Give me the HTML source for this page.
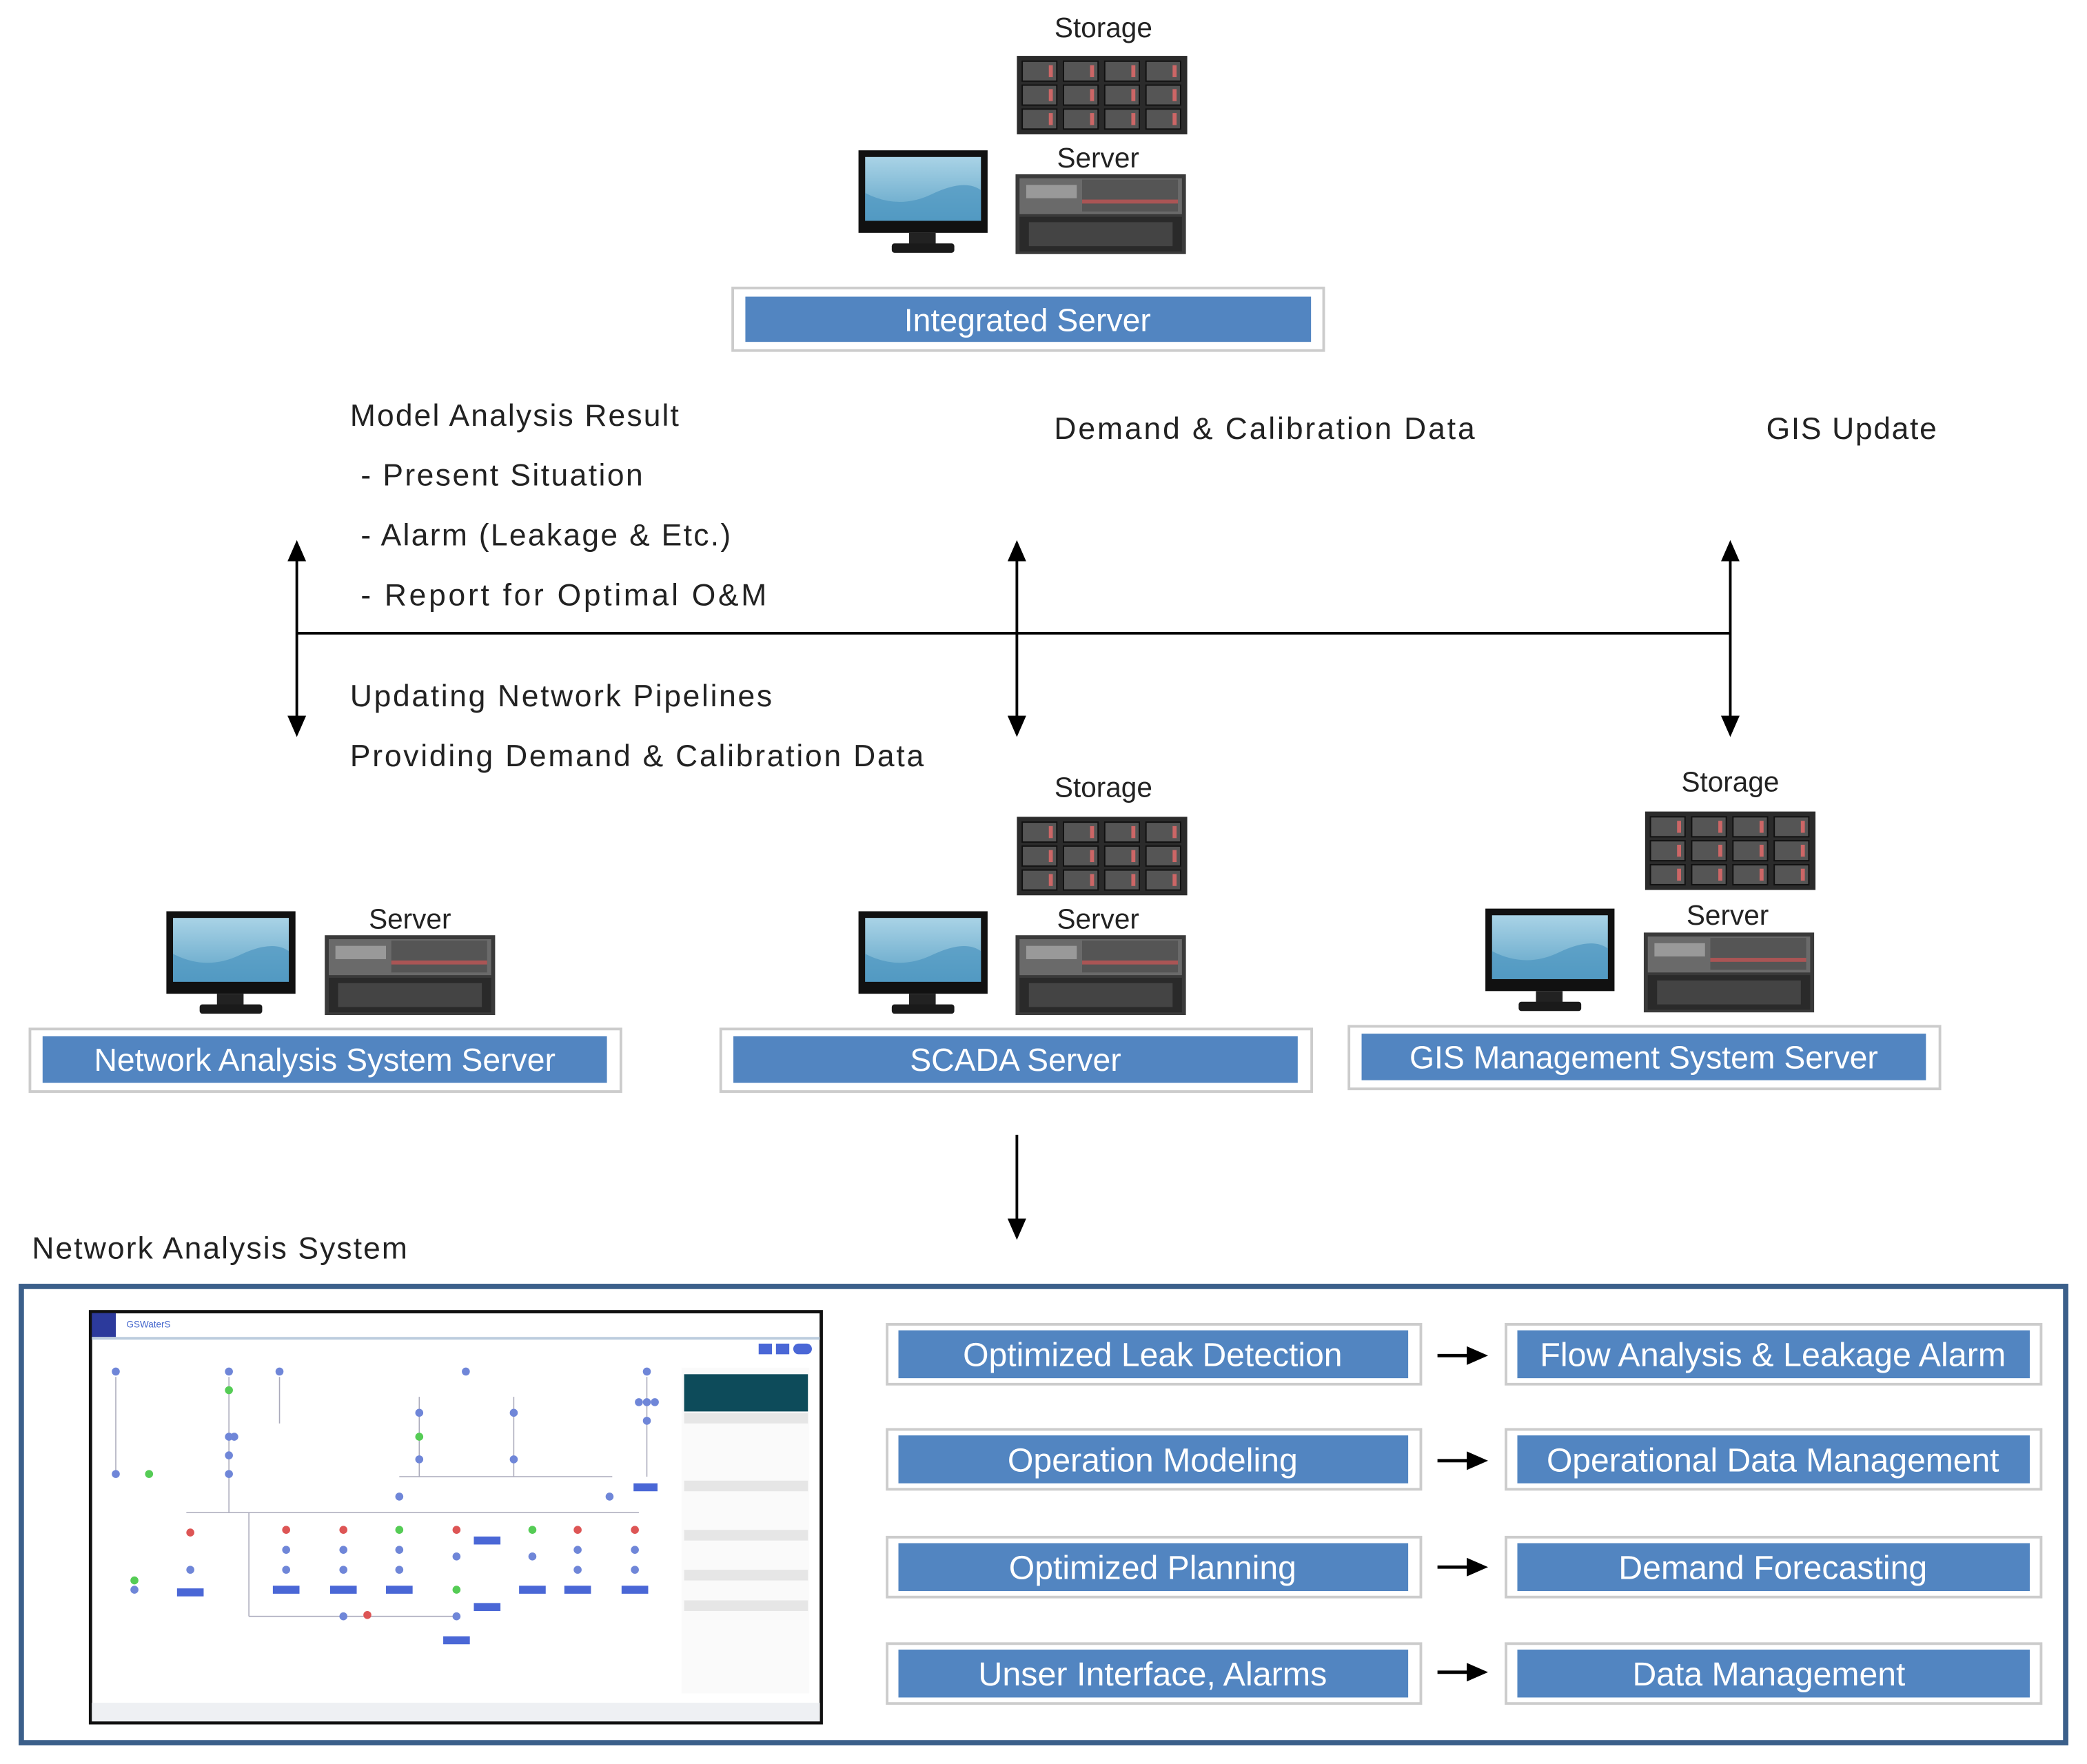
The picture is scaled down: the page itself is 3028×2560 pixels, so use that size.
<!DOCTYPE html>
<html><head><meta charset="utf-8"><style>html,body{margin:0;padding:0;background:#fff}svg{display:block}</style></head>
<body>
<svg width="3028" height="2560" viewBox="0 0 1568 1326" preserveAspectRatio="none" xmlns="http://www.w3.org/2000/svg">
<defs>
<linearGradient id="scr" x1="0" y1="0" x2="0" y2="1"><stop offset="0" stop-color="#a9d3e6"/><stop offset="1" stop-color="#5ea3c7"/></linearGradient>
<g id="mon">
<rect x="0" y="0" width="97" height="62" fill="#111"/>
<rect x="5" y="5" width="87" height="48" fill="url(#scr)"/>
<path d="M5 32 Q30 45 55 33 T92 30 V53 H5Z" fill="#4d96c0" opacity="0.7"/>
<rect x="38" y="62" width="20" height="9" fill="#222"/>
<rect x="25" y="70" width="47" height="7" rx="2" fill="#1a1a1a"/>
</g>
<g id="srv">
<rect x="0" y="0" width="128" height="60" fill="#3a3a3a"/>
<rect x="3" y="3" width="122" height="27" fill="#6a6a6a"/>
<rect x="8" y="8" width="38" height="10" fill="#999"/>
<rect x="50" y="4" width="72" height="24" fill="#555"/>
<rect x="50" y="19" width="72" height="3" fill="#a55"/>
<rect x="3" y="32" width="122" height="26" fill="#2a2a2a"/>
<rect x="10" y="36" width="108" height="18" fill="#444"/>
</g>
<g id="sto">
<rect x="0" y="0" width="128" height="59" fill="#2b2b2b"/>
<g fill="#555" stroke="#111" stroke-width="1">
<rect x="4" y="4" width="26" height="15"/><rect x="35" y="4" width="26" height="15"/><rect x="66" y="4" width="26" height="15"/><rect x="97" y="4" width="26" height="15"/>
<rect x="4" y="22" width="26" height="15"/><rect x="35" y="22" width="26" height="15"/><rect x="66" y="22" width="26" height="15"/><rect x="97" y="22" width="26" height="15"/>
<rect x="4" y="40" width="26" height="15"/><rect x="35" y="40" width="26" height="15"/><rect x="66" y="40" width="26" height="15"/><rect x="97" y="40" width="26" height="15"/>
</g>
<g fill="#c66"><rect x="24" y="7" width="3" height="9"/><rect x="55" y="7" width="3" height="9"/><rect x="86" y="7" width="3" height="9"/><rect x="117" y="7" width="3" height="9"/>
<rect x="24" y="25" width="3" height="9"/><rect x="55" y="25" width="3" height="9"/><rect x="86" y="25" width="3" height="9"/><rect x="117" y="25" width="3" height="9"/>
<rect x="24" y="43" width="3" height="9"/><rect x="55" y="43" width="3" height="9"/><rect x="86" y="43" width="3" height="9"/><rect x="117" y="43" width="3" height="9"/></g>
</g>
<marker id="ah" markerWidth="16" markerHeight="14" refX="8" refY="7" orient="auto-start-reverse" markerUnits="userSpaceOnUse"><path d="M0 0 L16 7 L0 14Z" fill="#000"/></marker>
</defs>
<g font-family="Liberation Sans, sans-serif" fill="#222">
<text x="829" y="28" font-size="21" text-anchor="middle">Storage</text>
<use href="#sto" x="764" y="42"/>
<text x="825" y="126" font-size="21" text-anchor="middle">Server</text>
<use href="#mon" x="645" y="113"/>
<use href="#srv" x="763" y="131"/>
<rect x="550.5" y="216.5" width="444" height="47" fill="#fff" stroke="#ccc" stroke-width="2"/>
<rect x="560" y="223" width="425" height="34" fill="#5285c1"/>
<text x="772" y="249" font-size="24" fill="#fff" text-anchor="middle">Integrated Server</text>

<g font-size="23" lengthAdjust="spacingAndGlyphs">
<text x="263" y="320" textLength="247">Model Analysis Result</text>
<text x="271" y="365" textLength="212">- Present Situation</text>
<text x="271" y="410" textLength="278">- Alarm (Leakage &amp; Etc.)</text>
<text x="271" y="455" textLength="305">- Report for Optimal O&amp;M</text>
<text x="792" y="330" textLength="316">Demand &amp; Calibration Data</text>
<text x="1327" y="330" textLength="128">GIS Update</text>
<text x="263" y="531" textLength="317">Updating Network Pipelines</text>
<text x="263" y="576" textLength="431">Providing Demand &amp; Calibration Data</text>
<text x="24" y="946" textLength="282">Network Analysis System</text>
</g>

<g stroke="#000" stroke-width="2">
<line x1="223" y1="476" x2="1300" y2="476"/>
<line x1="223" y1="414" x2="223" y2="546" marker-start="url(#ah)" marker-end="url(#ah)"/>
<line x1="764" y1="414" x2="764" y2="546" marker-start="url(#ah)" marker-end="url(#ah)"/>
<line x1="1300" y1="414" x2="1300" y2="546" marker-start="url(#ah)" marker-end="url(#ah)"/>
<line x1="764" y1="853" x2="764" y2="924" marker-end="url(#ah)"/>
</g>

<use href="#mon" x="125" y="685"/>
<use href="#srv" x="244" y="703"/>
<text x="308" y="698" font-size="21" text-anchor="middle">Server</text>
<rect x="22.5" y="773.5" width="444" height="47" fill="#fff" stroke="#ccc" stroke-width="2"/>
<rect x="32" y="779" width="424" height="35" fill="#5285c1"/>
<text x="244" y="805" font-size="24" fill="#fff" text-anchor="middle">Network Analysis System Server</text>
<text x="829" y="599" font-size="21" text-anchor="middle">Storage</text>
<use href="#sto" x="764" y="614"/>
<text x="825" y="698" font-size="21" text-anchor="middle">Server</text>
<use href="#mon" x="645" y="685"/>
<use href="#srv" x="763" y="703"/>
<rect x="541.5" y="773.5" width="444" height="47" fill="#fff" stroke="#ccc" stroke-width="2"/>
<rect x="551" y="779" width="424" height="35" fill="#5285c1"/>
<text x="763" y="805" font-size="24" fill="#fff" text-anchor="middle">SCADA Server</text>
<text x="1300" y="595" font-size="21" text-anchor="middle">Storage</text>
<use href="#sto" x="1236" y="610"/>
<text x="1298" y="695" font-size="21" text-anchor="middle">Server</text>
<use href="#mon" x="1116" y="683"/>
<use href="#srv" x="1235" y="701"/>
<rect x="1013.5" y="771.5" width="444" height="47" fill="#fff" stroke="#ccc" stroke-width="2"/>
<rect x="1023" y="777" width="424" height="35" fill="#5285c1"/>
<text x="1235" y="803" font-size="24" fill="#fff" text-anchor="middle">GIS Management System Server</text>

<rect x="16" y="967" width="1536" height="343" fill="none" stroke="#3b5f8a" stroke-width="4"/>

<rect x="68" y="986" width="549" height="309" fill="#fff" stroke="#111" stroke-width="2.5"/>
<rect x="69" y="987" width="18" height="18" fill="#2c3a9c"/>
<text x="95" y="998" font-size="7" fill="#4466cc">GSWaterS</text>
<line x1="69" y1="1006" x2="616" y2="1006" stroke="#bcd" stroke-width="2"/>
<rect x="69" y="1280" width="547" height="14" fill="#eef0f3"/>
<rect x="512" y="1028" width="96" height="245" fill="#fafafa"/>
<rect x="514" y="1033" width="93" height="28" fill="#0d4b5a"/>
<g fill="#e6e6e6"><rect x="514" y="1062" width="93" height="8"/><rect x="514" y="1113" width="93" height="8"/><rect x="514" y="1150" width="93" height="8"/><rect x="514" y="1180" width="93" height="8"/><rect x="514" y="1203" width="93" height="8"/></g>
<g stroke="#aab" stroke-width="0.8" fill="none">
<path d="M87 1035 V1108 M172 1035 V1110 M210 1035 V1070 M315 1050 V1110 M386 1050 V1110 M486 1035 V1110 M300 1110 H460 M140 1137 H480 M172 1110 V1137 M187 1137 V1215 M187 1215 H345"/>
</g>
<g fill="#6f86d8">
<circle cx="87" cy="1031" r="3"/><circle cx="172" cy="1031" r="3"/><circle cx="210" cy="1031" r="3"/><circle cx="350" cy="1031" r="3"/><circle cx="486" cy="1031" r="3"/>
<circle cx="172" cy="1080" r="3"/><circle cx="176" cy="1080" r="3"/><circle cx="172" cy="1094" r="3"/><circle cx="172" cy="1108" r="3"/><circle cx="87" cy="1108" r="3"/>
<circle cx="315" cy="1062" r="3"/><circle cx="386" cy="1062" r="3"/><circle cx="315" cy="1097" r="3"/><circle cx="386" cy="1097" r="3"/>
<circle cx="480" cy="1054" r="3"/><circle cx="486" cy="1054" r="3"/><circle cx="492" cy="1054" r="3"/><circle cx="486" cy="1068" r="3"/>
<circle cx="300" cy="1125" r="3"/><circle cx="458" cy="1125" r="3"/>
<circle cx="215" cy="1165" r="3"/><circle cx="258" cy="1165" r="3"/><circle cx="300" cy="1165" r="3"/><circle cx="343" cy="1170" r="3"/><circle cx="400" cy="1170" r="3"/><circle cx="434" cy="1165" r="3"/><circle cx="477" cy="1165" r="3"/>
<circle cx="143" cy="1180" r="3"/><circle cx="215" cy="1180" r="3"/><circle cx="258" cy="1180" r="3"/><circle cx="300" cy="1180" r="3"/><circle cx="434" cy="1180" r="3"/><circle cx="477" cy="1180" r="3"/><circle cx="101" cy="1195" r="3"/><circle cx="258" cy="1215" r="3"/><circle cx="343" cy="1215" r="3"/>
</g>
<g fill="#d55"><circle cx="143" cy="1152" r="3"/><circle cx="215" cy="1150" r="3"/><circle cx="258" cy="1150" r="3"/><circle cx="343" cy="1150" r="3"/><circle cx="434" cy="1150" r="3"/><circle cx="477" cy="1150" r="3"/><circle cx="276" cy="1214" r="3"/></g>
<g fill="#5c5"><circle cx="172" cy="1045" r="3"/><circle cx="315" cy="1080" r="3"/><circle cx="112" cy="1108" r="3"/><circle cx="101" cy="1188" r="3"/><circle cx="300" cy="1150" r="3"/><circle cx="400" cy="1150" r="3"/><circle cx="343" cy="1195" r="3"/></g>
<g fill="#4a67d6"><rect x="133" y="1194" width="20" height="6"/><rect x="205" y="1192" width="20" height="6"/><rect x="248" y="1192" width="20" height="6"/><rect x="290" y="1192" width="20" height="6"/><rect x="390" y="1192" width="20" height="6"/><rect x="424" y="1192" width="20" height="6"/><rect x="467" y="1192" width="20" height="6"/><rect x="333" y="1230" width="20" height="6"/><rect x="356" y="1155" width="20" height="6"/><rect x="356" y="1205" width="20" height="6"/><rect x="476" y="1115" width="18" height="6"/><rect x="570" y="1010" width="10" height="8"/><rect x="583" y="1010" width="10" height="8"/><rect x="596" y="1010" width="14" height="8" rx="4"/></g>

<g>
<rect x="666.5" y="995.5" width="401" height="45" fill="#fff" stroke="#ccc" stroke-width="2"/><rect x="675" y="1000" width="383" height="36" fill="#5285c1"/>
<rect x="1131.5" y="995.5" width="402" height="45" fill="#fff" stroke="#ccc" stroke-width="2"/><rect x="1140" y="1000" width="385" height="36" fill="#5285c1"/>
<rect x="666.5" y="1074.5" width="401" height="45" fill="#fff" stroke="#ccc" stroke-width="2"/><rect x="675" y="1079" width="383" height="36" fill="#5285c1"/>
<rect x="1131.5" y="1074.5" width="402" height="45" fill="#fff" stroke="#ccc" stroke-width="2"/><rect x="1140" y="1079" width="385" height="36" fill="#5285c1"/>
<rect x="666.5" y="1155.5" width="401" height="45" fill="#fff" stroke="#ccc" stroke-width="2"/><rect x="675" y="1160" width="383" height="36" fill="#5285c1"/>
<rect x="1131.5" y="1155.5" width="402" height="45" fill="#fff" stroke="#ccc" stroke-width="2"/><rect x="1140" y="1160" width="385" height="36" fill="#5285c1"/>
<rect x="666.5" y="1235.5" width="401" height="45" fill="#fff" stroke="#ccc" stroke-width="2"/><rect x="675" y="1240" width="383" height="36" fill="#5285c1"/>
<rect x="1131.5" y="1235.5" width="402" height="45" fill="#fff" stroke="#ccc" stroke-width="2"/><rect x="1140" y="1240" width="385" height="36" fill="#5285c1"/>
</g>
<g font-size="25" fill="#fff" text-anchor="middle">
<text x="866" y="1027" textLength="285" lengthAdjust="spacingAndGlyphs">Optimized Leak Detection</text>
<text x="1332" y="1027" textLength="350" lengthAdjust="spacingAndGlyphs">Flow Analysis &amp; Leakage Alarm</text>
<text x="866" y="1106" textLength="218" lengthAdjust="spacingAndGlyphs">Operation Modeling</text>
<text x="1332" y="1106" textLength="340" lengthAdjust="spacingAndGlyphs">Operational Data Management</text>
<text x="866" y="1187" textLength="216" lengthAdjust="spacingAndGlyphs">Optimized Planning</text>
<text x="1332" y="1187" textLength="232" lengthAdjust="spacingAndGlyphs">Demand Forecasting</text>
<text x="866" y="1267" textLength="262" lengthAdjust="spacingAndGlyphs">Unser Interface, Alarms</text>
<text x="1329" y="1267" textLength="205" lengthAdjust="spacingAndGlyphs">Data Management</text>
</g>
<g stroke="#000" stroke-width="2.5">
<line x1="1080" y1="1019" x2="1110" y2="1019" marker-end="url(#ah)"/>
<line x1="1080" y1="1098" x2="1110" y2="1098" marker-end="url(#ah)"/>
<line x1="1080" y1="1178" x2="1110" y2="1178" marker-end="url(#ah)"/>
<line x1="1080" y1="1257" x2="1110" y2="1257" marker-end="url(#ah)"/>
</g>
</g>
</svg>
</body></html>
